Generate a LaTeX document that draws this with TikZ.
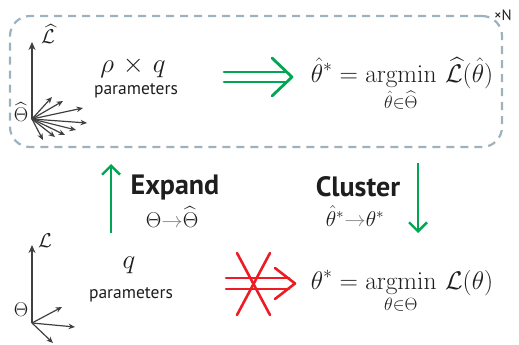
\RequirePackage{fix-cm}
\documentclass[tikz,border=0pt]{standalone}
\usepackage{amsmath}
\usepackage[no-math]{fontspec}
\newfontfamily\psans{PT Sans}
\usetikzlibrary{arrows.meta}
\definecolor{grn}{RGB}{0,166,81}
\definecolor{rd}{RGB}{237,28,36}
\definecolor{dashc}{RGB}{157,178,190}
\definecolor{axc}{RGB}{64,64,64}
\definecolor{txt}{RGB}{30,30,30}
\begin{document}
\begin{tikzpicture}[x=1pt,y=-1pt,
  axis/.style={draw=axc, line width=1.4pt, -{Stealth[length=8pt,width=7pt]}},
  fan/.style={draw=axc, line width=1.2pt, -{Stealth[length=6.5pt,width=5.5pt]}},
  mlab/.style={inner sep=0pt, text=txt, font=\fontsize{20}{24}\selectfont},
  bigmath/.style={inner sep=0pt, text=txt, font=\fontsize{27}{32}\selectfont},
  formula/.style={inner sep=0pt, anchor=base, text=txt, font=\fontsize{25.5}{30}\selectfont},
  partext/.style={inner sep=0pt, text=txt, font=\psans\fontsize{17.5}{20}\selectfont},
  optitle/.style={inner sep=0pt, text=txt, font=\psans\bfseries\fontsize{28}{32}\selectfont},
  opsub/.style={inner sep=0pt, text=txt, font=\fontsize{21.5}{25}\selectfont},
  gline/.style={draw=grn, line width=2.8pt, line cap=round},
  rline/.style={draw=rd, line width=2.6pt, line cap=round},
  vgarrow/.style={draw=grn, line width=2.4pt, -{Straight Barb[length=9pt,width=18pt]}}
]
\useasboundingbox (0,0) rectangle (519,345);

% dashed repetition box
\node[draw=dashc, line width=2.2pt, dash pattern=on 8pt off 6pt, rounded corners=20pt,
      minimum width=492pt, minimum height=131pt, inner sep=0pt] (box) at (256,81.5) {};
\node[inner sep=0pt, text=txt, font=\psans\fontsize{15}{18}\selectfont] (times) at (503,15) {×N};

% top axes
\coordinate (o1) at (32,119);
\coordinate (y1) at (32,42);
\draw[axis] (o1) -- (y1);
\node[mlab] (lhat) at (48,34) {$\widehat{\mathcal{L}}$};
\node[mlab] (thhat) at (21,112) {$\widehat{\Theta}$};
\foreach \xx/\yy/\n in {52/97/a,63/101/b,83/108/c,87/123/d,76/130/e,65/135/f,55/137/g,43/140/h}{
  \coordinate (f\n) at (\xx,\yy);
  \draw[fan] (o1) -- (f\n);
}

% top text
\node[bigmath] (rq) at (133,67) {$\rho\mskip2mu\times\mskip2mu q$};
\node[partext] (par1) at (136,91) {parameters};

% green double arrow
\coordinate (g1) at (224,72);
\coordinate (g2) at (286,72);
\coordinate (g3) at (224,82);
\coordinate (g4) at (286,82);
\coordinate (gc1) at (272,58);
\coordinate (gt) at (292,77);
\coordinate (gc2) at (272,96);
\draw[gline] (g1) -- (g2);
\draw[gline] (g3) -- (g4);
\draw[gline, line join=round] (gc1) -- (gt) -- (gc2);

\node[formula] (f1) at (402,82) {$\displaystyle \hat{\theta}^{*} = \operatorname*{argmin}_{\hat{\theta}\in\widehat{\Theta}}\, \widehat{\mathcal{L}}(\hat{\theta})$};

% expand / cluster
\coordinate (ea) at (111,233);
\coordinate (eb) at (111,164);
\draw[vgarrow] (ea) -- (eb);
\node[optitle] (exp) at (175,187) {Expand};
\node[opsub] (expsub) at (172,217) {$\Theta{\color{gray}\to}\widehat{\Theta}$};

\coordinate (ca) at (418,163);
\coordinate (cb) at (418,233);
\draw[vgarrow] (ca) -- (cb);
\node[optitle] (clu) at (358,187) {Cluster};
\node[opsub] (clusub) at (355,216) {$\hat{\theta}^{*}{\color{gray}\to}\theta^{*}$};

% bottom axes
\coordinate (o2) at (32,323);
\coordinate (y2) at (32,245);
\draw[axis] (o2) -- (y2);
\node[mlab] (lab) at (45,241) {$\mathcal{L}$};
\node[mlab] (thb) at (21,310) {$\Theta$};
\foreach \xx/\yy/\n in {62/307/a,75/327/b,53/343/c}{
  \coordinate (h\n) at (\xx,\yy);
  \draw[fan] (o2) -- (h\n);
}

\node[bigmath] (q) at (129,265) {$q$};
\node[partext] (par2) at (131,295) {parameters};

% red crossed double arrow
\coordinate (r1) at (226,278);
\coordinate (r2) at (289,278);
\coordinate (r3) at (226,289);
\coordinate (r4) at (289,289);
\coordinate (rc1) at (275,268);
\coordinate (rt) at (295,283.5);
\coordinate (rc2) at (275,299);
\coordinate (x1) at (237,253);
\coordinate (x2) at (270,315);
\coordinate (x3) at (270,253);
\coordinate (x4) at (237,315);
\draw[rline] (r1) -- (r2);
\draw[rline] (r3) -- (r4);
\draw[rline, line join=round] (rc1) -- (rt) -- (rc2);
\draw[rline] (x1) -- (x2);
\draw[rline] (x3) -- (x4);

\node[formula] (f2) at (402,289) {$\displaystyle \theta^{*} = \operatorname*{argmin}_{\theta\in\Theta}\, \mathcal{L}(\theta)$};
\end{tikzpicture}
\end{document}
